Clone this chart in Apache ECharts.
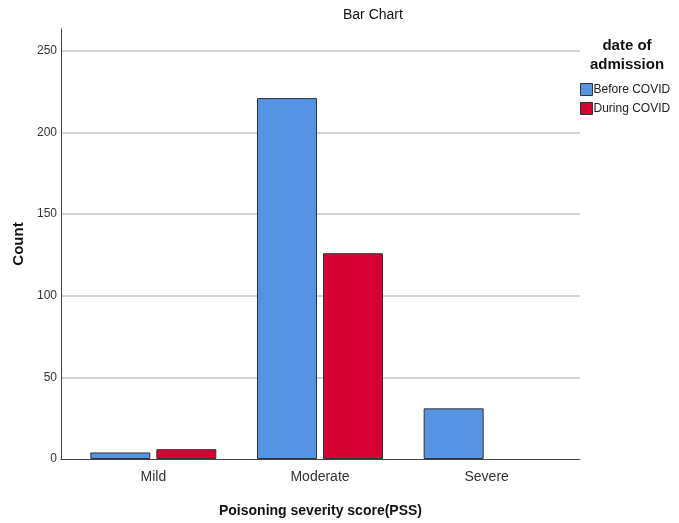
<!DOCTYPE html>
<html><head><meta charset="utf-8">
<script src="https://cdn.jsdelivr.net/npm/echarts@6/dist/echarts.min.js"></script>
<style>html,body{margin:0;padding:0;background:#fff}#c{width:679px;height:523px}</style>
</head><body><div id="c"></div>
<script>
const categories = ['Mild', 'Moderate', 'Severe'];
const beforeCovid = [4, 221, 31];
const duringCovid = [6, 126, null];
const seriesNames = ['Before COVID', 'During COVID'];
const yTicks = [0, 50, 100, 150, 200, 250];

const FONT = '"Liberation Sans", Arial, sans-serif';
const chart = echarts.init(document.getElementById('c'));
const yMax = 263.3;
chart.setOption({
  animation: false,
  textStyle: { fontFamily: FONT },
  title: [
    { text: 'Bar Chart', left: 343, top: 8, padding: 0,
      textStyle: { fontSize: 14, fontWeight: 'normal', color: '#111', fontFamily: FONT } },
    { text: 'date of\nadmission', left: 627, top: 36, textAlign: 'center', padding: 0,
      textStyle: { fontSize: 15, fontWeight: 'bold', color: '#111', lineHeight: 19, fontFamily: FONT } }
  ],
  legend: {
    orient: 'vertical', left: 580, top: 83, padding: 0, itemWidth: 12, itemHeight: 12, itemGap: 6,
    icon: 'rect', data: seriesNames,
    textStyle: { fontSize: 12, color: '#222', padding: [0, 0, 0, -4], fontFamily: FONT },
    itemStyle: { borderColor: '#333', borderWidth: 1 }
  },
  grid: [
    { left: 61, right: 99, top: 29, bottom: 64 },
    { left: 70, right: 109, top: 29, bottom: 64 }
  ],
  xAxis: [
    { gridIndex: 0, type: 'value', min: 0, max: 1, show: true,
      axisLine: { show: true, onZero: false, lineStyle: { color: '#444', width: 1 } },
      axisTick: { show: false }, axisLabel: { show: false }, splitLine: { show: false },
      name: 'Poisoning severity score(PSS)', nameLocation: 'middle', nameGap: 45,
      nameTextStyle: { fontSize: 14, fontWeight: 'bold', color: '#111', fontFamily: FONT } },
    { gridIndex: 1, type: 'category', data: categories,
      axisLine: { show: false }, axisTick: { show: false },
      axisLabel: { fontSize: 14, color: '#333', margin: 11, fontFamily: FONT } }
  ],
  yAxis: [
    { gridIndex: 0, type: 'value', min: 0, max: yMax, interval: 50,
      axisLine: { show: true, lineStyle: { color: '#444', width: 1 } },
      axisTick: { show: false },
      axisLabel: { fontSize: 12, color: '#333', margin: 4, fontFamily: FONT,
        formatter: v => yTicks.includes(v) ? String(v) : '' },
      splitLine: { show: true, showMaxLine: false, showMinLine: false, lineStyle: { color: '#d4d4d4', width: 2 } },
      name: 'Count', nameLocation: 'middle', nameGap: 31,
      nameTextStyle: { fontSize: 15, fontWeight: 'bold', color: '#111', fontFamily: FONT } },
    { gridIndex: 1, type: 'value', min: 0, max: yMax, show: false, splitLine: { show: false } }
  ],
  series: [
    { name: seriesNames[0], type: 'bar', xAxisIndex: 1, yAxisIndex: 1, data: beforeCovid,
      barWidth: 60, barGap: '10%',
      itemStyle: { color: '#5594E2', borderColor: '#333', borderWidth: 1 } },
    { name: seriesNames[1], type: 'bar', xAxisIndex: 1, yAxisIndex: 1, data: duringCovid,
      barWidth: 60, barGap: '10%',
      itemStyle: { color: '#D60032', borderColor: '#333', borderWidth: 1 } }
  ]
});
</script></body></html>
